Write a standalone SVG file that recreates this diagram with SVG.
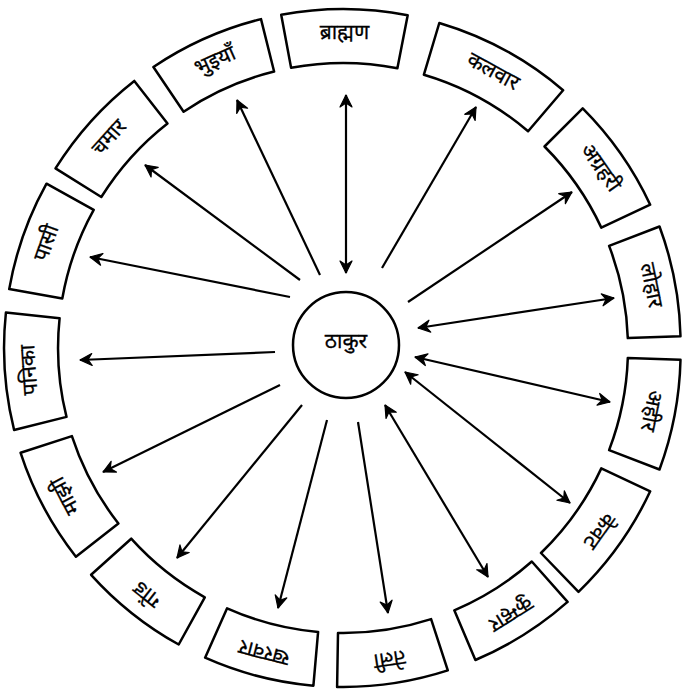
<svg xmlns="http://www.w3.org/2000/svg" width="682" height="690" viewBox="0 0 682 690">
<style>
.box{fill:#fff;stroke:#000;stroke-width:2.5;stroke-linejoin:round}
.lbl{font-family:"Noto Sans Devanagari","Lohit Devanagari","Noto Sans",sans-serif;font-size:21px;fill:#000;stroke:#000;stroke-width:0.3;text-anchor:middle;dominant-baseline:central}
.arr{stroke:#000;stroke-width:2.2;fill:none}
.one{marker-end:url(#ah)}
.two{marker-end:url(#ah);marker-start:url(#ah)}
</style>
<defs>
<marker id="ah" markerUnits="userSpaceOnUse" markerWidth="16" markerHeight="14" refX="13" refY="7" orient="auto-start-reverse">
<path d="M1,1 L13,7 L1,13 L5,7 Z" fill="#000" stroke="#000" stroke-width="1.2" stroke-linejoin="round"/>
</marker>
</defs>
<rect width="682" height="690" fill="#fff"/>
<g id="center">
<circle cx="346" cy="345" r="53" fill="#fff" stroke="#000" stroke-width="2.5"/>
<text class="lbl" x="346" y="343" font-size="22">ठाकुर</text>
</g>
<g id="n1"><path class="box" d="M281.2,14.7 A339,339 0 0 1 407.7,15.2 L397.4,68.2 A285,285 0 0 0 291.1,67.8 Z"/><text class="lbl" x="344.4" y="34" transform="rotate(0.25 344.4 34)">ब्राह्मण</text></g>
<g id="n2"><path class="box" d="M439.3,23 A339,339 0 0 1 563.1,90.2 L528.1,131.3 A285,285 0 0 0 423.9,74.7 Z"/><text class="lbl" x="492.4" y="72.9" transform="rotate(28.5 492.4 72.9)">कलवार</text></g>
<g id="n3"><path class="box" d="M582.7,108.3 A339,339 0 0 1 650.2,204.7 L601.3,227.6 A285,285 0 0 0 544.5,146.5 Z"/><text class="lbl" x="599.4" y="168.5" transform="rotate(55 599.4 168.5)">अग्रहरी</text></g>
<g id="n4"><path class="box" d="M659.5,226.5 A339,339 0 0 1 680.5,336.2 L627.8,338.1 A285,285 0 0 0 609.1,245.9 Z"/><text class="lbl" x="649.7" y="285.6" transform="rotate(78.5 649.7 285.6)">लोहार</text></g>
<g id="n5"><path class="box" d="M680.5,359.8 A339,339 0 0 1 659.5,469.5 L609.1,450.1 A285,285 0 0 0 627.8,357.9 Z"/><text class="lbl" x="649.7" y="410.4" transform="rotate(101.5 649.7 410.4)">अहीर</text></g>
<g id="n6"><path class="box" d="M650.2,491.3 A339,339 0 0 1 578.5,591.8 L541,553 A285,285 0 0 0 601.3,468.4 Z"/><text class="lbl" x="597.8" y="529.8" transform="rotate(125.5 597.8 529.8)">केवट</text></g>
<g id="n7"><path class="box" d="M567.6,601.9 A339,339 0 0 1 475.4,660 L454.3,610.3 A285,285 0 0 0 531.8,561.5 Z"/><text class="lbl" x="510" y="612.7" transform="rotate(147.75 510 612.7)">कुम्हार</text></g>
<g id="n8"><path class="box" d="M447.8,670.4 A339,339 0 0 1 337.1,686.9 L338,632.9 A285,285 0 0 0 431.1,619.1 Z"/><text class="lbl" x="389.3" y="657.6" transform="rotate(171.5 389.3 657.6)">तेली</text></g>
<g id="n9"><path class="box" d="M313.4,685.7 A339,339 0 0 1 205.1,657.7 L227.1,608.3 A285,285 0 0 0 318.1,631.9 Z"/><text class="lbl" x="264.6" y="651" transform="rotate(194.5 264.6 651)">खरवार</text></g>
<g id="n10"><path class="box" d="M178.7,644.5 A339,339 0 0 1 91.1,574.8 L131.2,538.7 A285,285 0 0 0 204.8,597.3 Z"/><text class="lbl" x="148.2" y="593" transform="rotate(218.5 148.2 593)">गोंड</text></g>
<g id="n11"><path class="box" d="M75.9,556.7 A339,339 0 0 1 20.6,452.8 L71.9,436.1 A285,285 0 0 0 118.4,523.5 Z"/><text class="lbl" x="66.6" y="495" transform="rotate(242 66.6 495)">माझी</text></g>
<g id="n12"><path class="box" d="M14.1,430 A339,339 0 0 1 5.9,312.6 L59.6,318.2 A285,285 0 0 0 66.5,416.9 Z"/><text class="lbl" x="30.8" y="369.8" transform="rotate(266 30.8 369.8)">पनिका</text></g>
<g id="n13"><path class="box" d="M9.2,289.1 A339,339 0 0 1 46.5,183.7 L93.7,209.8 A285,285 0 0 0 62.3,298.5 Z"/><text class="lbl" x="48" y="243.5" transform="rotate(289.5 48 243.5)">पासी</text></g>
<g id="n14"><path class="box" d="M55.5,168.4 A339,339 0 0 1 134.3,80.9 L167.5,123.4 A285,285 0 0 0 101.3,197 Z"/><text class="lbl" x="110.4" y="138.6" transform="rotate(312 110.4 138.6)">चमार</text></g>
<g id="n15"><path class="box" d="M153.4,67 A339,339 0 0 1 261,19.1 L274.1,71.5 A285,285 0 0 0 183.6,111.7 Z"/><text class="lbl" x="215.7" y="62.1" transform="rotate(336 215.7 62.1)">भुइयाँ</text></g>
<g id="connectors">
<line class="arr two" x1="346" y1="273" x2="346" y2="95"/>
<line class="arr one" x1="382" y1="268" x2="476" y2="107"/>
<line class="arr one" x1="408" y1="302" x2="572" y2="192"/>
<line class="arr two" x1="418" y1="328" x2="614" y2="298"/>
<line class="arr two" x1="415" y1="357" x2="610" y2="402"/>
<line class="arr two" x1="405" y1="372" x2="570" y2="503"/>
<line class="arr two" x1="385" y1="405" x2="488" y2="577"/>
<line class="arr one" x1="358" y1="422" x2="388" y2="613"/>
<line class="arr one" x1="327" y1="420" x2="278" y2="608"/>
<line class="arr one" x1="302" y1="405" x2="177" y2="558"/>
<line class="arr one" x1="280" y1="385" x2="103" y2="472"/>
<line class="arr one" x1="275" y1="352" x2="80" y2="360"/>
<line class="arr one" x1="290" y1="297" x2="90" y2="257"/>
<line class="arr one" x1="300" y1="280" x2="145" y2="165"/>
<line class="arr one" x1="320" y1="275" x2="237" y2="100"/>
</g>
</svg>
